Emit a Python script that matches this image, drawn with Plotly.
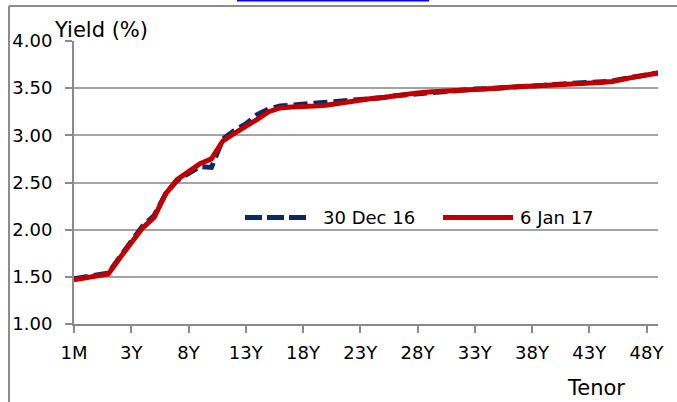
import plotly.graph_objects as go

# ---- data ----
tenors = ["1M", "3M", "6M", "1Y", "2Y"] + [f"{y}Y" for y in range(3, 50)]
yield_30dec16 = [1.48, 1.50, 1.52, 1.54, 1.71, 1.88, 2.04, 2.15, 2.38, 2.52,
                 2.60, 2.67, 2.66, 2.96, 3.05, 3.12, 3.22, 3.28, 3.31, 3.32,
                 3.32, 3.33, 3.35, 3.36, 3.37, 3.38, 3.39, 3.40, 3.42, 3.43,
                 3.45, 3.46, 3.47, 3.475, 3.48, 3.49, 3.495, 3.50, 3.51, 3.52,
                 3.525, 3.53, 3.54, 3.545, 3.55, 3.56, 3.565, 3.575, 3.60, 3.62,
                 3.64, 3.66]
yield_6jan17 = [1.47, 1.49, 1.51, 1.53, 1.70, 1.86, 2.02, 2.13, 2.38, 2.53,
                2.62, 2.70, 2.75, 2.94, 3.02, 3.09, 3.17, 3.25, 3.29, 3.30,
                3.30, 3.31, 3.32, 3.34, 3.36, 3.37, 3.39, 3.40, 3.42, 3.43,
                3.45, 3.46, 3.465, 3.47, 3.48, 3.485, 3.49, 3.50, 3.51, 3.515,
                3.52, 3.53, 3.535, 3.54, 3.55, 3.555, 3.56, 3.57, 3.60, 3.62,
                3.64, 3.66]
series_names = ["30 Dec 16", "6 Jan 17"]
y_ticks = [1.0, 1.5, 2.0, 2.5, 3.0, 3.5, 4.0]
x_tick_labels = tenors[::5]

BLUE = "#0a2a66"
RED = "#c00000"
GRID = "#a3a3a3"
AXIS = "#8a8a8a"
FONT = "DejaVu Sans"

W, H = 677, 402
L, R, T, B = 74, 19, 41, 78
PW, PH = W - L - R, H - T - B


def px(x):
    return (x - L) / PW


def py(y):
    return (H - B - y) / PH


fig = go.Figure()
fig.add_trace(go.Scatter(x=tenors, y=yield_30dec16, mode="lines", name=series_names[0],
                         line=dict(color=BLUE, width=5, dash="14px,6px"), showlegend=False))
fig.add_trace(go.Scatter(x=tenors, y=yield_6jan17, mode="lines", name=series_names[1],
                         line=dict(color=RED, width=5), showlegend=False))

fig.update_layout(
    width=W, height=H,
    margin=dict(l=L, r=R, t=T, b=B, pad=0),
    paper_bgcolor="white", plot_bgcolor="white",
    font=dict(family=FONT, size=18, color="#000000"),
    xaxis=dict(type="category", range=[0, len(tenors) - 1],
               tickmode="array", tickvals=x_tick_labels, ticktext=x_tick_labels,
               showgrid=False, zeroline=False, showline=True, linecolor=AXIS, linewidth=2,
               ticks="outside", ticklen=7, tickwidth=2, tickcolor=AXIS,
               tickfont=dict(size=18), ticklabelstandoff=4),
    yaxis=dict(range=[1, 4], tickvals=y_ticks, tickformat=".2f",
               showgrid=True, gridcolor=GRID, gridwidth=2, zeroline=False,
               showline=True, linecolor=AXIS, linewidth=2,
               ticks="outside", ticklen=7, tickwidth=2, tickcolor=AXIS,
               tickfont=dict(size=18), ticklabelstandoff=9),
)

shapes = [
    # outer frame
    dict(type="line", xref="paper", yref="paper", x0=px(9), x1=px(W + 5), y0=py(6), y1=py(6),
         line=dict(color="#8c8c8c", width=2)),
    dict(type="line", xref="paper", yref="paper", x0=px(9), x1=px(9), y0=py(6), y1=py(H + 5),
         line=dict(color="#8c8c8c", width=2)),
    # hyperlink underline at top
    dict(type="line", xref="paper", yref="paper", x0=px(237), x1=px(429), y0=py(0.5), y1=py(0.5),
         line=dict(color="#0000ff", width=2)),
    # legend symbols
    dict(type="line", xref="paper", yref="paper", x0=px(245), x1=px(307), y0=py(217.5), y1=py(217.5),
         line=dict(color=BLUE, width=5, dash="17px,5px")),
    dict(type="line", xref="paper", yref="paper", x0=px(443), x1=px(513), y0=py(217.5), y1=py(217.5),
         line=dict(color=RED, width=5)),
]
fig.update_layout(shapes=shapes)

annotations = [
    dict(text="Yield (%)", xref="paper", yref="paper", x=px(52), y=py(30),
         xanchor="left", yanchor="middle", showarrow=False, font=dict(size=21)),
    dict(text="Tenor", xref="paper", yref="paper", x=px(596), y=py(388),
         xanchor="center", yanchor="middle", showarrow=False, font=dict(size=21)),
    dict(text=series_names[0], xref="paper", yref="paper", x=px(321), y=py(217),
         xanchor="left", yanchor="middle", showarrow=False, font=dict(size=18)),
    dict(text=series_names[1], xref="paper", yref="paper", x=px(518), y=py(217),
         xanchor="left", yanchor="middle", showarrow=False, font=dict(size=18)),
]
fig.update_layout(annotations=annotations)

fig.write_html("out.html", config={"displayModeBar": False},
               post_script="document.body.style.margin='0';document.body.style.overflow='hidden';")
